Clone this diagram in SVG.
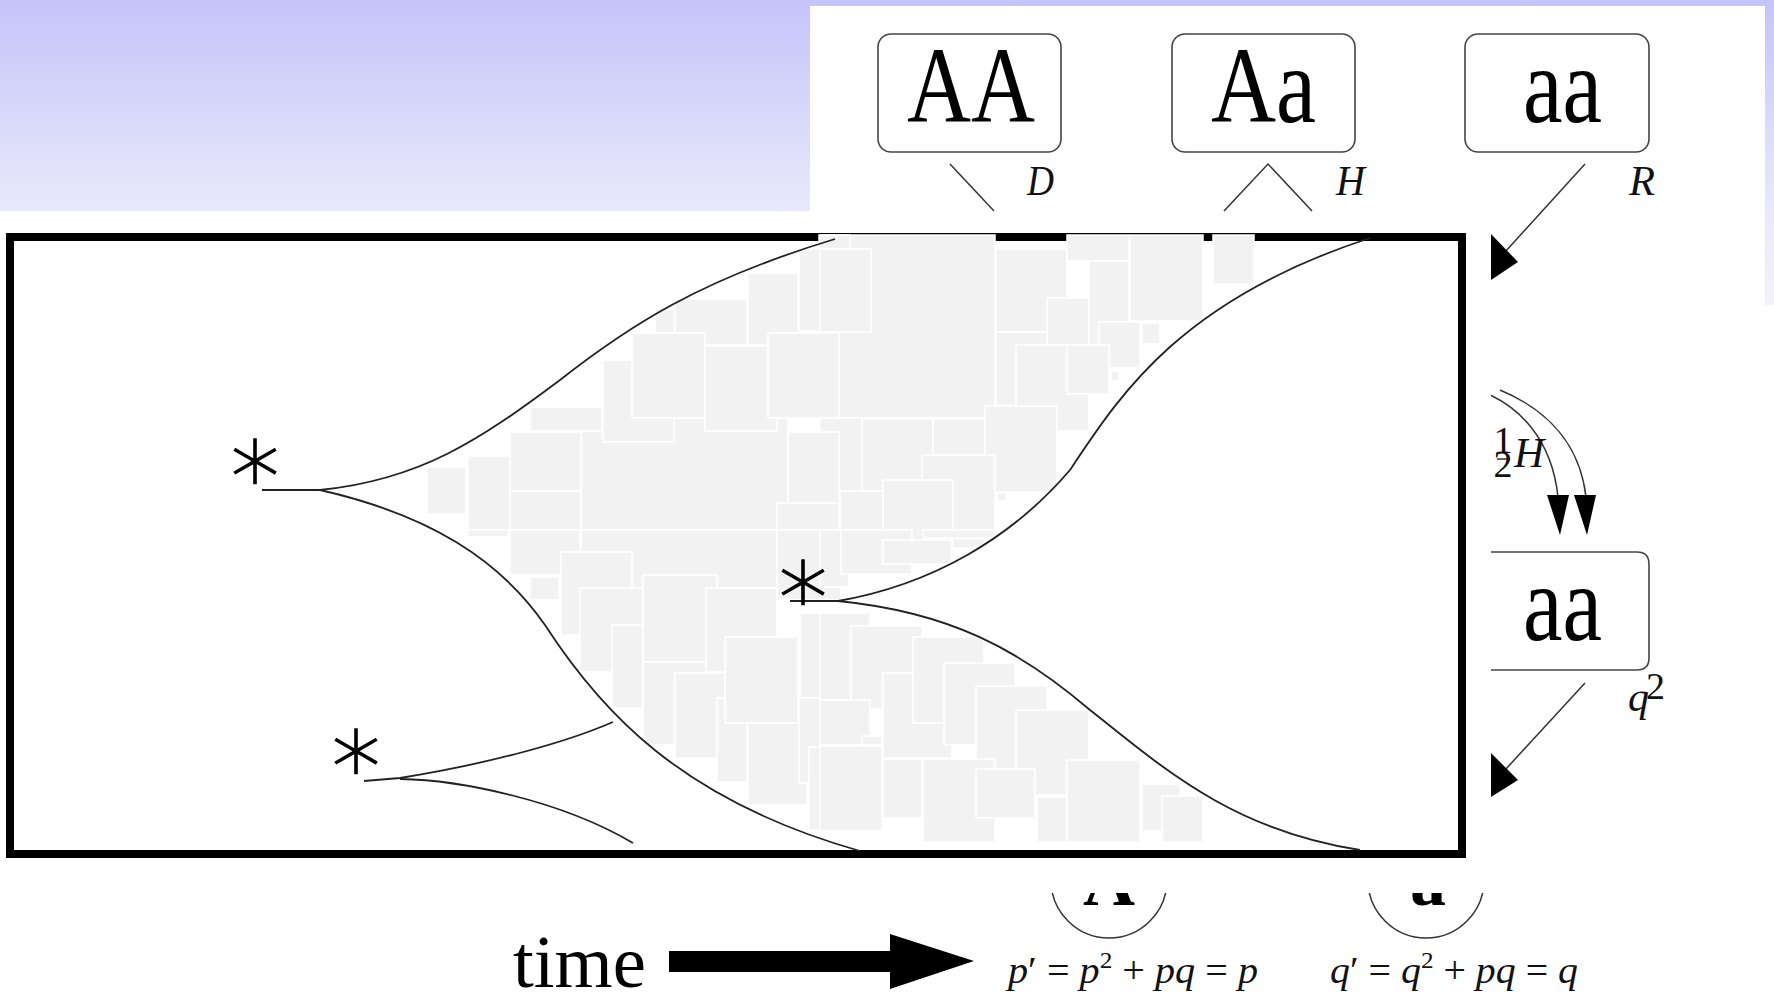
<svg xmlns="http://www.w3.org/2000/svg" width="1774" height="997" viewBox="0 0 1774 997">
<defs>
<linearGradient id="bg" x1="0" y1="0" x2="0" y2="305" gradientUnits="userSpaceOnUse">
<stop offset="0" stop-color="#c4c4fa"/>
<stop offset="0.69" stop-color="#e9e9fb"/>
<stop offset="1" stop-color="#f2f2fc"/>
</linearGradient>
<clipPath id="rightClip"><rect x="1491" y="150" width="283" height="730"/></clipPath>
<clipPath id="bottomClip"><rect x="1000" y="893" width="600" height="104"/></clipPath>
<style>
.box{fill:#fff;stroke:#444;stroke-width:1.6}
.big{font-family:"Liberation Serif","DejaVu Serif",serif;font-size:108px;fill:#000}
.lab{font-family:"Liberation Serif","DejaVu Serif",serif;font-style:italic;font-size:42px;fill:#111}
.math{font-family:"Liberation Serif","DejaVu Serif",serif;font-size:38px;fill:#111}
.thin{fill:none;stroke:#333;stroke-width:1.5}
.curve{fill:none;stroke:#222;stroke-width:1.8}
.sq rect{fill:#f2f2f2;stroke:#fff;stroke-width:1.5}
.star{font-family:"DejaVu Sans",sans-serif;font-weight:200;font-size:98px;fill:#000;stroke:#000;stroke-width:1.3}
.head{fill:#000}
</style>
</defs>

<g id="background">
<rect x="0" y="0" width="1774" height="997" fill="#fff"/>
<rect x="0" y="0" width="810" height="211" fill="url(#bg)"/>
<rect x="810" y="0" width="964" height="6" fill="url(#bg)"/>
<rect x="1765" y="0" width="9" height="305" fill="url(#bg)"/>
</g>

<g id="frame">
<rect x="10" y="237" width="1452" height="617" fill="none" stroke="#000" stroke-width="8"/>
</g>

<g id="squares" class="sq">
<rect x="580" y="418" width="208" height="130"/>
<rect x="820" y="235" width="175" height="183"/>
<rect x="820" y="418" width="165" height="130"/>
<rect x="580" y="530" width="197" height="58"/>
<rect x="427" y="467" width="39" height="47"/>
<rect x="468" y="456" width="72" height="82"/>
<rect x="510" y="432" width="71" height="116"/>
<rect x="530" y="407" width="72" height="24"/>
<rect x="603" y="360" width="71" height="82"/>
<rect x="655" y="309" width="70" height="36"/>
<rect x="675" y="299" width="72" height="46"/>
<rect x="632" y="333" width="73" height="85"/>
<rect x="748" y="273" width="50" height="72"/>
<rect x="705" y="346" width="72" height="85"/>
<rect x="768" y="333" width="71" height="85"/>
<rect x="799" y="249" width="51" height="82"/>
<rect x="819" y="235" width="31" height="14"/>
<rect x="788" y="432" width="51" height="83"/>
<rect x="777" y="503" width="62" height="45"/>
<rect x="510" y="491" width="71" height="57"/>
<rect x="820" y="249" width="51" height="83"/>
<rect x="996" y="249" width="71" height="83"/>
<rect x="1067" y="235" width="62" height="26"/>
<rect x="1089" y="261" width="40" height="84"/>
<rect x="1130" y="235" width="73" height="86"/>
<rect x="1213" y="235" width="41" height="49"/>
<rect x="1047" y="298" width="42" height="47"/>
<rect x="996" y="332" width="51" height="73"/>
<rect x="1099" y="322" width="41" height="46"/>
<rect x="1142" y="323" width="18" height="21"/>
<rect x="1016" y="345" width="73" height="86"/>
<rect x="1067" y="345" width="42" height="49"/>
<rect x="1111" y="371" width="8" height="10"/>
<rect x="985" y="406" width="72" height="86"/>
<rect x="997" y="493" width="9" height="8"/>
<rect x="862" y="419" width="71" height="84"/>
<rect x="933" y="419" width="52" height="36"/>
<rect x="922" y="455" width="73" height="84"/>
<rect x="883" y="480" width="70" height="68"/>
<rect x="840" y="491" width="43" height="57"/>
<rect x="468" y="530" width="40" height="7"/>
<rect x="510" y="530" width="70" height="45"/>
<rect x="530" y="577" width="29" height="23"/>
<rect x="561" y="552" width="71" height="83"/>
<rect x="580" y="588" width="63" height="84"/>
<rect x="612" y="625" width="31" height="83"/>
<rect x="643" y="575" width="74" height="87"/>
<rect x="643" y="662" width="64" height="83"/>
<rect x="675" y="673" width="50" height="85"/>
<rect x="706" y="588" width="71" height="84"/>
<rect x="717" y="698" width="30" height="84"/>
<rect x="725" y="637" width="73" height="86"/>
<rect x="748" y="723" width="59" height="82"/>
<rect x="777" y="530" width="64" height="70"/>
<rect x="800" y="613" width="50" height="85"/>
<rect x="799" y="698" width="51" height="85"/>
<rect x="809" y="747" width="41" height="83"/>
<rect x="820" y="530" width="29" height="57"/>
<rect x="841" y="530" width="71" height="44"/>
<rect x="883" y="540" width="69" height="24"/>
<rect x="923" y="530" width="72" height="8"/>
<rect x="820" y="613" width="50" height="87"/>
<rect x="851" y="626" width="71" height="83"/>
<rect x="820" y="700" width="50" height="45"/>
<rect x="862" y="736" width="20" height="9"/>
<rect x="820" y="746" width="62" height="85"/>
<rect x="883" y="673" width="69" height="85"/>
<rect x="913" y="637" width="71" height="86"/>
<rect x="944" y="663" width="71" height="82"/>
<rect x="976" y="686" width="71" height="83"/>
<rect x="1016" y="710" width="73" height="85"/>
<rect x="883" y="759" width="39" height="59"/>
<rect x="923" y="759" width="72" height="83"/>
<rect x="976" y="769" width="59" height="49"/>
<rect x="1037" y="797" width="30" height="45"/>
<rect x="1067" y="760" width="73" height="82"/>
<rect x="1142" y="784" width="38" height="47"/>
<rect x="1162" y="796" width="41" height="46"/>
</g>

<g id="tree">
<path class="curve" d="M262,490 L320,490 C420,480 480,440 560,380 C630,325 700,280 835,239"/>
<path class="curve" d="M320,490 C430,515 500,560 545,625 C600,710 680,800 860,851"/>
<path class="curve" d="M364,781 L400,778 C480,765 560,745 613,722"/>
<path class="curve" d="M400,779 C460,780 560,800 633,843"/>
<path class="curve" d="M790,601 L838,601 C930,585 1010,540 1070,470 C1120,395 1180,300 1370,238"/>
<path class="curve" d="M838,601 C950,612 1020,650 1090,710 C1160,765 1230,830 1360,850"/>
<text class="star" x="255" y="492" text-anchor="middle">∗</text>
<text class="star" x="356" y="782" text-anchor="middle">∗</text>
<text class="star" x="803" y="613" text-anchor="middle">∗</text>
</g>

<g id="node-AA">
<rect class="box" x="878" y="34" width="183" height="118" rx="13"/>
<text class="big" x="907" y="122" textLength="128" lengthAdjust="spacingAndGlyphs">AA</text>
<text class="lab" x="1027" y="195" textLength="27" lengthAdjust="spacingAndGlyphs">D</text>
</g>
<g id="node-Aa">
<rect class="box" x="1172" y="34" width="183" height="118" rx="13"/>
<text class="big" x="1211" y="122" textLength="105" lengthAdjust="spacingAndGlyphs">Aa</text>
<text class="lab" x="1336" y="195" textLength="29" lengthAdjust="spacingAndGlyphs">H</text>
</g>
<g id="node-aa-top">
<rect class="box" x="1465" y="34" width="184" height="118" rx="13"/>
<text class="big" x="1523" y="122" textLength="79" lengthAdjust="spacingAndGlyphs">aa</text>
<text class="lab" x="1629" y="195" textLength="26" lengthAdjust="spacingAndGlyphs">R</text>
</g>

<g id="node-aa-right" clip-path="url(#rightClip)">
<path class="box" d="M1470,552 H1637 Q1649,552 1649,564 V658 Q1649,670 1637,670 H1470"/>
<text class="big" x="1523" y="640" textLength="79" lengthAdjust="spacingAndGlyphs">aa</text>
</g>

<g id="connectors">
<path class="thin" d="M950,164 L994,211"/>
<path class="thin" d="M1224,211 L1268,164 L1312,211"/>
<g clip-path="url(#rightClip)">
<path class="thin" d="M1585,164 L1505,252"/>
<polygon class="head" points="1491,234 1518,262 1491,280 1478,270"/>
<path class="thin" d="M1585,683 L1505,770"/>
<polygon class="head" points="1491,753 1518,780 1491,797 1478,787"/>
<path class="thin" d="M1478,390 C1520,405 1552,440 1558,497"/>
<path class="thin" d="M1500,390 C1548,410 1580,445 1586,497"/>
<polygon class="head" points="1547,495 1569,495 1560,535"/>
<polygon class="head" points="1574,495 1596,495 1587,535"/>
</g>
</g>

<g id="labels">
<text class="math" font-size="20" x="1503" y="453" text-anchor="middle">1</text>
<line x1="1497" y1="459" x2="1510" y2="459" stroke="#111" stroke-width="1.3"/>
<text class="math" font-size="20" x="1503" y="477" text-anchor="middle">2</text>
<text class="lab" font-size="36" x="1514" y="467">H</text>
<text class="lab" font-size="30" x="1628" y="711">q</text>
<text class="math" font-size="20" x="1646" y="699">2</text>
</g>

<g id="time-arrow">
<text x="513" y="987" font-family="'Liberation Serif',serif" font-size="74" fill="#000" textLength="133" lengthAdjust="spacingAndGlyphs">time</text>
<rect x="669" y="951" width="225" height="21" fill="#000"/>
<polygon points="890,934 974,961 890,989" fill="#000"/>
</g>

<g id="alleles">
<g clip-path="url(#bottomClip)">
<path class="thin" d="M1051,880 A58,58 0 0 0 1167,880"/>
<path class="thin" d="M1368,880 A58,58 0 0 0 1484,880"/>
<text x="1109" y="905" text-anchor="middle" font-family="'Liberation Serif',serif" font-weight="bold" font-size="72" fill="#000">A</text>
<text x="1428" y="905" text-anchor="middle" font-family="'Liberation Serif',serif" font-weight="bold" font-size="72" fill="#000">a</text>
</g>
<text class="math" x="1008" y="983" textLength="250" lengthAdjust="spacingAndGlyphs"><tspan font-style="italic">p</tspan>′ = <tspan font-style="italic">p</tspan><tspan font-size="24" dy="-15">2</tspan><tspan dy="15"> + </tspan><tspan font-style="italic">pq</tspan> = <tspan font-style="italic">p</tspan></text>
<text class="math" x="1330" y="983" textLength="248" lengthAdjust="spacingAndGlyphs"><tspan font-style="italic">q</tspan>′ = <tspan font-style="italic">q</tspan><tspan font-size="24" dy="-15">2</tspan><tspan dy="15"> + </tspan><tspan font-style="italic">pq</tspan> = <tspan font-style="italic">q</tspan></text>
</g>
</svg>
